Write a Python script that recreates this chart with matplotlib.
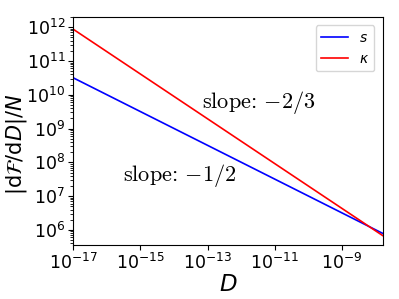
import matplotlib
matplotlib.use("Agg")
import matplotlib.pyplot as plt
from matplotlib.ticker import LogLocator

# endpoints of the two power laws (straight lines on log-log axes)
D = [1e-17, 1.6e-8]
s_vals = [3.2e10, 7.9e5]
kappa_vals = [8.8e11, 6.8e5]

slope_labels = [r"slope: $-2/3$", r"slope: $-1/2$"]
label_pos = [(10**-13.17, 10**9.76), (10**-15.52, 10**7.6)]

fig = plt.figure(figsize=(3.99, 2.99), dpi=100)
ax = fig.add_axes([0.183, 0.181, 0.776, 0.762])

ax.plot(D, s_vals, color="blue", lw=1.2, label=r"$s$")
ax.plot(D, kappa_vals, color="red", lw=1.2, label=r"$\kappa$")
ax.set_xscale("log")
ax.set_yscale("log")
ax.set_xlim(D[0], D[1])
ax.set_ylim(3.6e5, 2.0e12)
ax.yaxis.set_major_locator(LogLocator(base=10, numticks=20))
ax.yaxis.set_minor_locator(LogLocator(base=10, subs=range(2, 10), numticks=20))

for txt, (x, y) in zip(slope_labels, label_pos):
    ax.text(x, y, txt, fontsize=16, ha="left", va="center",
            family="cmr10", math_fontfamily="cm")

ax.set_xlabel(r"$D$", fontsize=16.5, labelpad=0)
ax.set_ylabel(r"$|\mathrm{d}\mathcal{F}/\mathrm{d}D|/N$", fontsize=15)
ax.yaxis.set_label_coords(-0.142, 0.44)
ax.tick_params(labelsize=12.5, pad=2)
ax.legend(loc="upper right", fontsize=10, handlelength=1.9, borderaxespad=0.6)

fig.savefig("out.png", dpi=100)
